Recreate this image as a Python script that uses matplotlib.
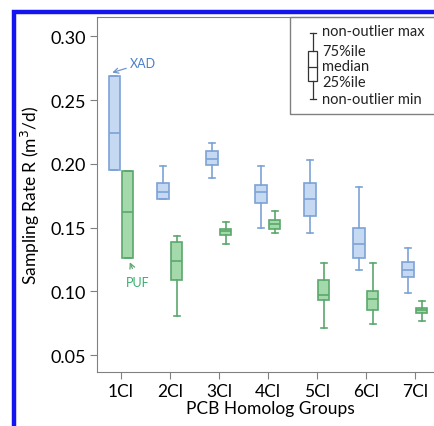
import matplotlib.pyplot as plt
from matplotlib.patches import Rectangle

plt.rcParams['font.family'] = ['Lato', 'DejaVu Sans']

groups = ['1Cl', '2Cl', '3Cl', '4Cl', '5Cl', '6Cl', '7Cl']

# XAD box stats
xad_whislo = [0.195, 0.172, 0.189, 0.150, 0.146, 0.117, 0.099]
xad_q1 = [0.195, 0.172, 0.199, 0.169, 0.159, 0.126, 0.111]
xad_med = [0.224, 0.178, 0.204, 0.178, 0.172, 0.137, 0.117]
xad_q3 = [0.269, 0.185, 0.210, 0.183, 0.185, 0.150, 0.123]
xad_whishi = [0.269, 0.198, 0.216, 0.198, 0.203, 0.182, 0.134]

# PUF box stats
puf_whislo = [0.126, 0.081, 0.137, 0.146, 0.071, 0.074, 0.077]
puf_q1 = [0.126, 0.109, 0.144, 0.149, 0.093, 0.085, 0.083]
puf_med = [0.162, 0.124, 0.147, 0.153, 0.097, 0.094, 0.085]
puf_q3 = [0.194, 0.139, 0.149, 0.156, 0.109, 0.100, 0.087]
puf_whishi = [0.194, 0.143, 0.154, 0.163, 0.122, 0.122, 0.092]

xad_face, xad_edge = '#c6d9f3', '#7da2d6'
puf_face, puf_edge = '#a3d9ab', '#5aa86c'


def stats(lo, q1, med, q3, hi):
    return [dict(whislo=a, q1=b, med=c, q3=d, whishi=e, fliers=[])
            for a, b, c, d, e in zip(lo, q1, med, q3, hi)]


fig = plt.figure(figsize=(4.34, 4.27), dpi=100)
ax = fig.add_axes([0.2235, 0.1265, 0.80, 0.831])

pos = list(range(1, len(groups) + 1))
for data, off, face, edge in [
        (stats(xad_whislo, xad_q1, xad_med, xad_q3, xad_whishi), -0.14, xad_face, xad_edge),
        (stats(puf_whislo, puf_q1, puf_med, puf_q3, puf_whishi), 0.14, puf_face, puf_edge)]:
    ax.bxp(data, positions=[p + off for p in pos], widths=0.23, patch_artist=True,
           showfliers=False, capwidths=0.12,
           boxprops=dict(facecolor=face, edgecolor=edge, linewidth=1.2),
           whiskerprops=dict(color=edge, linewidth=1.2),
           capprops=dict(color=edge, linewidth=1.2),
           medianprops=dict(color=edge, linewidth=1.2))

ax.set_xlim(0.51, 7.6)
ax.set_ylim(0.0367, 0.315)
ax.set_xticks(pos)
ax.set_xticklabels(groups, fontsize=12.5)
ax.set_yticks([0.05, 0.10, 0.15, 0.20, 0.25, 0.30])
ax.set_yticklabels(['0.05', '0.10', '0.15', '0.20', '0.25', '0.30'], fontsize=13)
ax.tick_params(direction='out', length=5, color='#808080', pad=3)
for sp in ax.spines.values():
    sp.set_color('#808080')
ax.set_xlabel('PCB Homolog Groups', fontsize=12.5, labelpad=1)
ax.set_ylabel('Sampling Rate R (m$^3$/d)', fontsize=12.5, labelpad=6)

# annotations
ax.annotate('XAD', xy=(0.82, 0.2715), xytext=(1.19, 0.279), color='#4d7fc9', fontsize=9,
            ha='left', va='center',
            arrowprops=dict(arrowstyle='->', color='#6f96d0', lw=0.9, shrinkA=1, shrinkB=0))
ax.annotate('PUF', xy=(1.18, 0.1228), xytext=(1.35, 0.107), color='#36b06c', fontsize=9,
            ha='center', va='center',
            arrowprops=dict(arrowstyle='->', color='#5aa86c', lw=0.9, shrinkA=4, shrinkB=0))

# key box
ax.add_patch(Rectangle((0.556, 0.727), 0.6, 0.273, transform=ax.transAxes, fill=False,
                       edgecolor='#808080', lw=1, clip_on=False))
kx, kw = 0.622, 0.013
ky = [0.955, 0.905, 0.860, 0.82, 0.77]
ax.plot([kx, kx], [ky[0], ky[1]], color='#333333', lw=0.9, transform=ax.transAxes)
ax.plot([kx, kx], [ky[3], ky[4]], color='#333333', lw=0.9, transform=ax.transAxes)
for yy, w in [(ky[0], 0.008), (ky[4], 0.008), (ky[2], kw)]:
    ax.plot([kx - w, kx + w], [yy, yy], color='#333333', lw=0.9, transform=ax.transAxes)
ax.add_patch(Rectangle((kx - kw, ky[3]), 2 * kw, ky[1] - ky[3], transform=ax.transAxes,
                       fill=False, edgecolor='#333333', lw=0.9))
key_labels = ['non-outlier max', '75%ile', 'median', '25%ile', 'non-outlier min']
key_y = [0.962, 0.905, 0.862, 0.818, 0.768]
for t, yy in zip(key_labels, key_y):
    ax.text(0.648, yy, t, transform=ax.transAxes, fontsize=10.5, va='center', ha='left',
            color='#222222')

# blue frame
fig.patches.append(Rectangle((14, -50), 600, 464, transform=None, fill=False,
                             edgecolor='#1414f0', lw=3.2))

fig.savefig('out.png', dpi=100)
